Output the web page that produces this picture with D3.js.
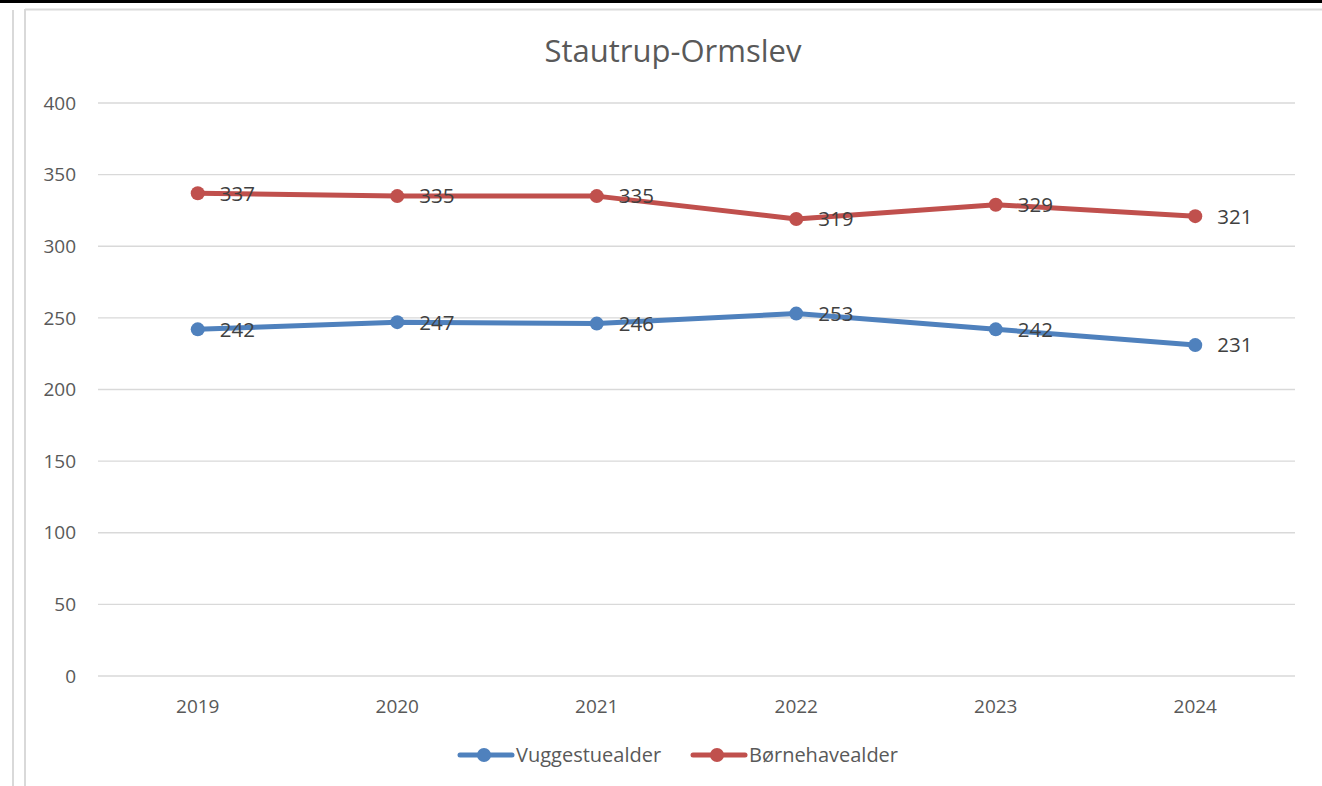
<!DOCTYPE html>
<html>
<head>
<meta charset="utf-8">
<script src="https://cdn.jsdelivr.net/npm/d3@7"></script>
<style>
  body { margin: 0; background: #fff; overflow: hidden; }
  text { font-family: "Open Sans", sans-serif; }
</style>
</head>
<body>
<script>
// data
var years = ["2019", "2020", "2021", "2022", "2023", "2024"];
var vuggestue = [242, 247, 246, 253, 242, 231];
var boernehave = [337, 335, 335, 319, 329, 321];
var yTicks = [0, 50, 100, 150, 200, 250, 300, 350, 400];
var seriesNames = ["Vuggestuealder", "Børnehavealder"];
var colors = ["#4f81bd", "#c0504d"];

var w = 1322, h = 786;
var plotLeft = 98, plotRight = 1295, plotTop = 103, plotBottom = 676;

var svg = d3.select("body").append("svg")
  .attr("width", w)
  .attr("height", h);

// page frame bits
svg.append("rect").attr("x", 0).attr("y", 0).attr("width", w).attr("height", 3).attr("fill", "#000");
svg.append("line").attr("x1", 13).attr("x2", 13).attr("y1", 10).attr("y2", h).attr("stroke", "#d9d9d9").attr("stroke-width", 2);
svg.append("line").attr("x1", 25).attr("x2", 25).attr("y1", 9).attr("y2", h).attr("stroke", "#d9d9d9").attr("stroke-width", 2);
svg.append("line").attr("x1", 25).attr("x2", w).attr("y1", 9.5).attr("y2", 9.5).attr("stroke", "#d9d9d9").attr("stroke-width", 2);

var x = d3.scaleBand().domain(years).range([plotLeft, plotRight]);
var y = d3.scaleLinear().domain([0, 400]).range([plotBottom, plotTop]);

// gridlines
svg.append("g").selectAll("line")
  .data(yTicks)
  .enter()
  .append("line")
  .attr("x1", plotLeft).attr("x2", plotRight)
  .attr("y1", d => y(d)).attr("y2", d => y(d))
  .attr("stroke", "#d9d9d9")
  .attr("stroke-width", 1.3);

// y axis labels
svg.append("g").selectAll("text")
  .data(yTicks)
  .enter()
  .append("text")
  .text(d => d)
  .attr("x", 76)
  .attr("y", d => y(d))
  .attr("dy", "0.35em")
  .attr("text-anchor", "end")
  .attr("font-size", 19)
  .attr("fill", "#595959");

// x axis labels
svg.append("g").selectAll("text")
  .data(years)
  .enter()
  .append("text")
  .text(d => d)
  .attr("x", d => x(d) + x.bandwidth() / 2)
  .attr("y", 713)
  .attr("text-anchor", "middle")
  .attr("font-size", 19)
  .attr("fill", "#595959");

// title
svg.append("text")
  .text("Stautrup-Ormslev")
  .attr("x", 673)
  .attr("y", 62)
  .attr("text-anchor", "middle")
  .attr("font-size", 31)
  .attr("fill", "#595959");

var cx = d => x(d) + x.bandwidth() / 2;
var line = d3.line().x(d => cx(d.year)).y(d => y(d.value));

[vuggestue, boernehave].forEach(function(vals, s) {
  var pts = years.map((yr, i) => ({ year: yr, value: vals[i] }));
  var g = svg.append("g");
  g.append("path")
    .datum(pts)
    .attr("d", line)
    .attr("fill", "none")
    .attr("stroke", colors[s])
    .attr("stroke-width", 5)
    .attr("stroke-linejoin", "round");
  g.selectAll("circle")
    .data(pts)
    .enter()
    .append("circle")
    .attr("cx", d => cx(d.year))
    .attr("cy", d => y(d.value))
    .attr("r", 7)
    .attr("fill", colors[s]);
  g.selectAll("text")
    .data(pts)
    .enter()
    .append("text")
    .text(d => d.value)
    .attr("x", d => cx(d.year) + 22)
    .attr("y", d => y(d.value))
    .attr("dy", "0.36em")
    .attr("font-size", 20.5)
    .attr("fill", "#404040");
});

// legend
var legendX = [460, 693];
seriesNames.forEach(function(name, i) {
  var lg = svg.append("g").attr("transform", "translate(" + legendX[i] + ",755)");
  lg.append("line").attr("x1", 0).attr("x2", 52).attr("y1", 0).attr("y2", 0)
    .attr("stroke", colors[i]).attr("stroke-width", 5).attr("stroke-linecap", "round");
  lg.append("circle").attr("cx", 24).attr("cy", 0).attr("r", 7).attr("fill", colors[i]);
  lg.append("text").text(name).attr("x", 56).attr("y", 0).attr("dy", "0.36em")
    .attr("font-size", 20).attr("fill", "#595959");
});
</script>
</body>
</html>
